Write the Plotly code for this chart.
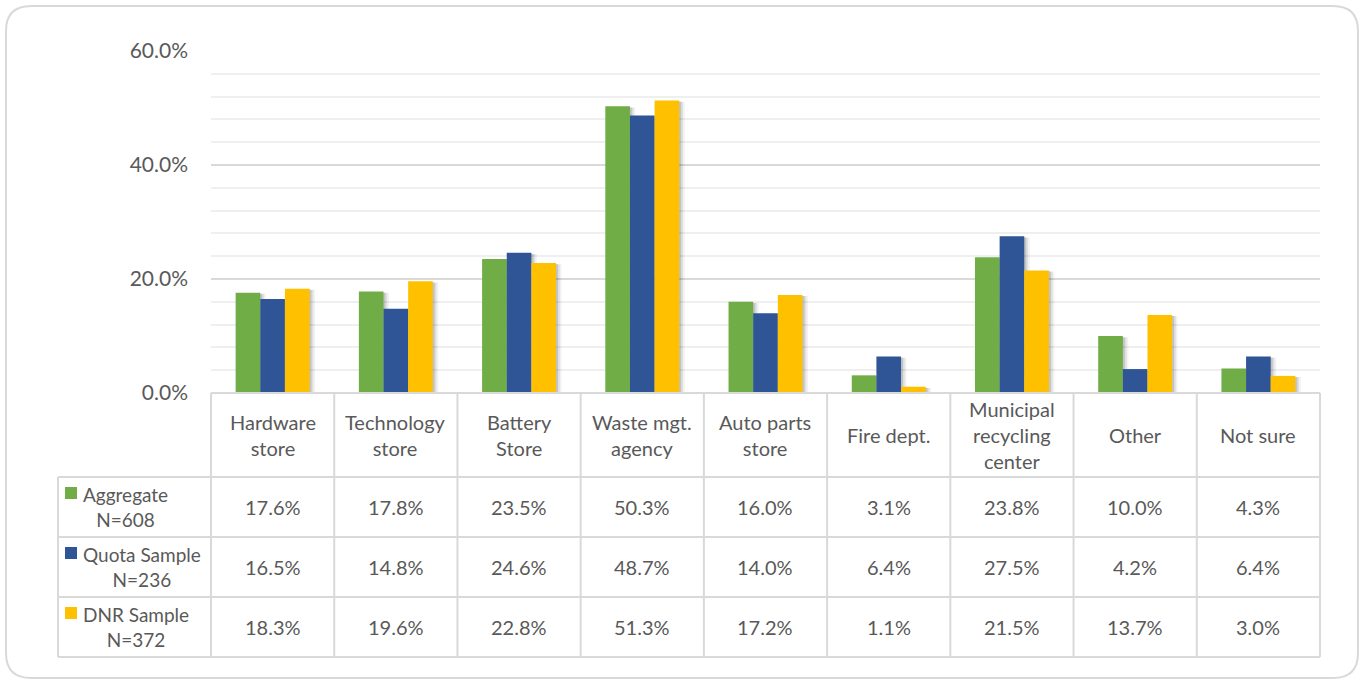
import plotly.graph_objects as go

categories = ["Hardware store", "Technology store", "Battery Store", "Waste mgt. agency",
              "Auto parts store", "Fire dept.", "Municipal recycling center", "Other", "Not sure"]
category_labels = ["Hardware<br>store", "Technology<br>store", "Battery<br>Store", "Waste mgt.<br>agency",
                   "Auto parts<br>store", "Fire dept.", "Municipal<br>recycling<br>center", "Other", "Not sure"]
series_names = ["Aggregate", "Quota Sample", "DNR Sample"]
series_n = ["N=608", "N=236", "N=372"]
aggregate = [0.176, 0.178, 0.235, 0.503, 0.160, 0.031, 0.238, 0.100, 0.043]
quota = [0.165, 0.148, 0.246, 0.487, 0.140, 0.064, 0.275, 0.042, 0.064]
dnr = [0.183, 0.196, 0.228, 0.513, 0.172, 0.011, 0.215, 0.137, 0.030]
colors = ["#70AD47", "#2F5597", "#FFC000"]
y_ticks = [0, 0.2, 0.4, 0.6]

W, H = 1364, 683
def px(x): return x / W
def py(y): return 1 - y / H

X0, X1 = 211, 1320
Y0, YT = 393, 51
TXT = "#595959"
GRID = "#d9d9d9"
FONT = "Lato"
FS = 20

BW = 0.2
offsets = [-0.3, -0.1, 0.1]
all_series = [aggregate, quota, dnr]

fig = go.Figure()
for name, vals, c, off in zip(series_names, all_series, colors, offsets):
    # soft shadow layers
    for d, a in [(0.045, 0.05), (0.03, 0.08), (0.016, 0.12)]:
        fig.add_trace(go.Bar(x=categories, y=[max(v - 0.002, 0) for v in vals], offset=off + d, width=BW,
                             marker=dict(color=f"rgba(0,0,0,{a})", line=dict(width=0)),
                             hoverinfo="skip", showlegend=False))
    fig.add_trace(go.Bar(x=categories, y=vals, name=name, offset=off, width=BW,
                         marker=dict(color=c, line=dict(width=0))))

shapes = []
ann = []
r = 25
shapes.append(dict(type="path", xref="paper", yref="paper",
    path=f"M {px(6+r)},{py(6)} L {px(1358-r)},{py(6)} Q {px(1358)},{py(6)} {px(1358)},{py(6+r)} "
         f"L {px(1358)},{py(678-r)} Q {px(1358)},{py(678)} {px(1358-r)},{py(678)} "
         f"L {px(6+r)},{py(678)} Q {px(6)},{py(678)} {px(6)},{py(678-r)} "
         f"L {px(6)},{py(6+r)} Q {px(6)},{py(6)} {px(6+r)},{py(6)} Z",
    line=dict(color="#d9d9d9", width=2), layer="below"))

n = len(categories)
cw = (X1 - X0) / n
row_y = [393, 477, 537, 597, 657]
LX = 58
shapes.append(dict(type="line", xref="paper", yref="paper", x0=px(X0), x1=px(X1), y0=py(393), y1=py(393),
                   line=dict(color=GRID, width=2)))
for yy in row_y[1:]:
    shapes.append(dict(type="line", xref="paper", yref="paper", x0=px(LX), x1=px(X1), y0=py(yy), y1=py(yy),
                       line=dict(color=GRID, width=2)))
for i in range(n + 1):
    xx = X0 + i * cw
    shapes.append(dict(type="line", xref="paper", yref="paper", x0=px(xx), x1=px(xx), y0=py(393), y1=py(657),
                       line=dict(color=GRID, width=2)))
shapes.append(dict(type="line", xref="paper", yref="paper", x0=px(LX), x1=px(LX), y0=py(477), y1=py(657),
                   line=dict(color=GRID, width=2)))

for i, lab in enumerate(category_labels):
    ann.append(dict(xref="paper", yref="paper", x=px(X0 + (i + 0.5) * cw), y=py(435), text=lab,
                    showarrow=False, xanchor="center", yanchor="middle", align="center",
                    font=dict(family=FONT, size=FS, color=TXT)))
for r_i, (name, nn, vals, c) in enumerate(zip(series_names, series_n, all_series, colors)):
    yc = (row_y[r_i + 1] + row_y[r_i + 2]) / 2
    for i, v in enumerate(vals):
        ann.append(dict(xref="paper", yref="paper", x=px(X0 + (i + 0.5) * cw), y=py(yc), text=f"{v*100:.1f}%",
                        showarrow=False, xanchor="center", yanchor="middle",
                        font=dict(family=FONT, size=FS, color=TXT)))
    ann.append(dict(xref="paper", yref="paper", x=px(81), y=py(yc), text=f"{name}<br>{nn}",
                    showarrow=False, xanchor="left", yanchor="middle", align="center",
                    font=dict(family=FONT, size=FS - 1, color=TXT)))
    shapes.append(dict(type="rect", xref="paper", yref="paper", x0=px(65), x1=px(77),
                       y0=py(yc - 20), y1=py(yc - 8), fillcolor=c, line=dict(width=0)))

fig.update_layout(
    width=W, height=H, margin=dict(l=0, r=0, t=0, b=0, autoexpand=False),
    paper_bgcolor="white", plot_bgcolor="white",
    barmode="overlay",
    showlegend=False,
    xaxis=dict(domain=[px(X0), px(X1)], range=[-0.5, n - 0.5], showticklabels=False, showline=False,
               showgrid=False, zeroline=False, automargin=False),
    yaxis=dict(domain=[py(Y0), py(YT)], range=[0, 0.6], tickvals=y_ticks, tickformat=".1%",
               showgrid=True, gridcolor=GRID, gridwidth=2, zeroline=False, showline=False,
               ticks="", ticklabelstandoff=22, automargin=False,
               tickfont=dict(family=FONT, size=21, color=TXT),
               minor=dict(dtick=0.04, showgrid=True, gridcolor="#efefef", gridwidth=2)),
    shapes=shapes, annotations=ann,
)
fig.write_html("out.html", config={"displayModeBar": False},
               post_script="document.body.style.margin='0';document.body.style.overflow='hidden';")
